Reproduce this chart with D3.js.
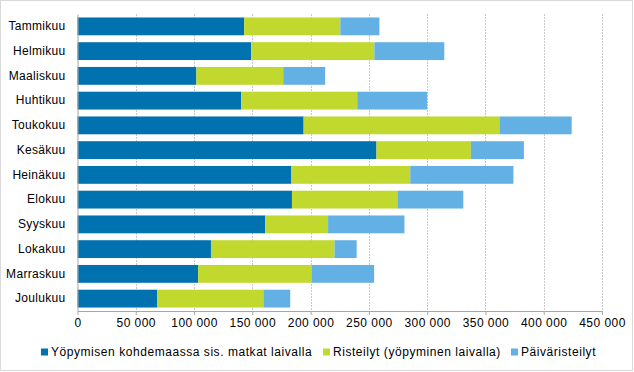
<!DOCTYPE html>
<html>
<head>
<meta charset="utf-8">
<script src="https://cdn.jsdelivr.net/npm/d3@7"></script>
<style>
    body { margin: 0; background: #fff; }
    svg { display: block; font-family: "Liberation Sans", Arial, sans-serif; }
</style>
</head>
<body>
<div id="chart"></div>
<script>
const months = ['Tammikuu', 'Helmikuu', 'Maaliskuu', 'Huhtikuu', 'Toukokuu', 'Kesäkuu',
    'Heinäkuu', 'Elokuu', 'Syyskuu', 'Lokakuu', 'Marraskuu', 'Joulukuu'];
const seriesNames = ['Yöpymisen kohdemaassa sis. matkat laivalla', 'Risteilyt (yöpyminen laivalla)', 'Päiväristeilyt'];
const overnight = [143000, 149000, 102000, 140500, 194000, 256500, 183500, 184000, 161000, 114500, 103500, 68500];
const cruises = [82500, 105700, 74500, 99500, 168000, 81000, 102000, 90500, 54000, 106000, 97500, 91000];
const dayCruises = [33500, 60000, 36000, 60000, 62000, 45500, 88500, 56500, 65500, 19000, 53500, 23000];
const xTicks = [0, 50000, 100000, 150000, 200000, 250000, 300000, 350000, 400000, 450000];

const width = 634, height = 372;
const margin = { top: 14, right: 32, bottom: 61, left: 77.5 };
const colors = ['#0072B0', '#C1D82F', '#63B1E4'];

const svg = d3.select('#chart').append('svg')
    .attr('width', width)
    .attr('height', height);

// outer frame
svg.append('rect')
    .attr('x', 0.5).attr('y', 0.5)
    .attr('width', width - 2).attr('height', height - 2)
    .attr('fill', 'none')
    .attr('stroke', '#d9d9d9');

const x = d3.scaleLinear()
    .domain([0, 450000])
    .range([margin.left, width - margin.right]);

const y = d3.scaleBand()
    .domain(months)
    .range([margin.top, height - margin.bottom])
    .paddingInner(0.28)
    .paddingOuter(0.14);

const fmt = v => d3.format(',')(v).replace(/,/g, ' ');

// vertical gridlines
svg.append('g')
    .selectAll('line')
    .data(xTicks.slice(1))
    .join('line')
    .attr('x1', d => Math.round(x(d)) + 0.5)
    .attr('x2', d => Math.round(x(d)) + 0.5)
    .attr('y1', margin.top)
    .attr('y2', height - margin.bottom)
    .attr('stroke', '#c8c8c8')
    .attr('stroke-dasharray', '2,1');

const table = months.map((m, i) => ({ month: m, values: [overnight[i], cruises[i], dayCruises[i]] }));

const stack = d3.stack()
    .keys([0, 1, 2])
    .value((d, k) => d.values[k]);

svg.append('g')
    .selectAll('g')
    .data(stack(table))
    .join('g')
    .attr('fill', (d, i) => colors[i])
    .selectAll('rect')
    .data(d => d)
    .join('rect')
    .attr('x', d => x(d[0]))
    .attr('y', d => y(d.data.month))
    .attr('width', d => x(d[1]) - x(d[0]))
    .attr('height', y.bandwidth());

// x axis
const xAxis = svg.append('g')
    .attr('transform', `translate(0, ${height - margin.bottom})`)
    .call(d3.axisBottom(x).tickValues(xTicks).tickFormat(fmt).tickSize(4).tickSizeOuter(0));
xAxis.select('.domain').attr('stroke', '#a6a6a6');
xAxis.selectAll('.tick line').attr('stroke', '#a6a6a6');
xAxis.selectAll('text')
    .attr('fill', '#000')
    .attr('font-size', 12)
    .attr('letter-spacing', 0.45);

// y axis
const yAxis = svg.append('g')
    .attr('transform', `translate(${margin.left}, 0)`)
    .call(d3.axisLeft(y).tickSize(0).tickPadding(12));
yAxis.select('.domain').attr('stroke', '#a6a6a6');
yAxis.selectAll('text')
    .attr('fill', '#000')
    .attr('font-size', 12)
    .attr('letter-spacing', 0.3);

// legend
const legendX = [41, 323, 511];
const legend = svg.append('g')
    .selectAll('g')
    .data(seriesNames)
    .join('g')
    .attr('transform', (d, i) => `translate(${legendX[i]}, 352)`);

legend.append('rect')
    .attr('x', 0).attr('y', -3.5)
    .attr('width', 7).attr('height', 7)
    .attr('fill', (d, i) => colors[i]);

legend.append('text')
    .attr('x', 10)
    .attr('dy', '0.35em')
    .attr('font-size', 12)
    .attr('letter-spacing', 0.55)
    .text(d => d);
</script>
</body>
</html>
